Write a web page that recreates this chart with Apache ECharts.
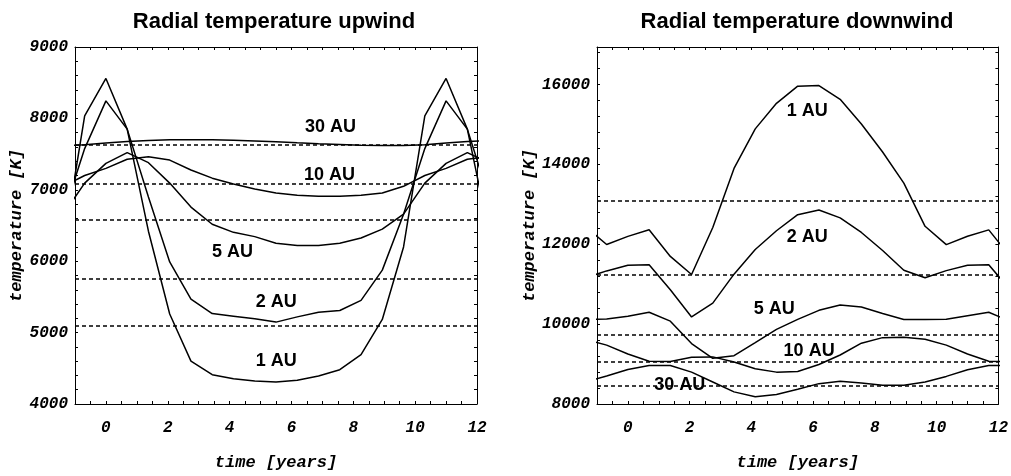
<!DOCTYPE html>
<html><head><meta charset="utf-8">
<script src="https://cdn.jsdelivr.net/npm/echarts@6/dist/echarts.min.js"></script>
<style>html,body{margin:0;padding:0;background:#fff}#c{width:1011px;height:476px}</style>
</head><body><div id="c"></div>
<script>
// sample times (years)
const times = [-1.375,-0.6875,0,0.6875,1.375,2.0625,2.75,3.4375,4.125,4.8125,5.5,6.1875,6.875,7.5625,8.25,8.9375,9.625,10.3125,11,11.6875,12.375];

// upwind temperatures [K]
const up1AU  = [6200,8037,8560,7850,6420,5260,4600,4410,4355,4322,4309,4332,4392,4480,4691,5184,6200,8037,8560,7850,6420];
const up2AU  = [6657,7577,8245,7850,6900,5990,5469,5267,5230,5193,5147,5220,5285,5310,5451,5875,6657,7577,8245,7850,6900];
const up5AU  = [6660,7094,7370,7520,7380,7094,6758,6518,6404,6344,6252,6220,6220,6252,6325,6449,6660,7094,7370,7520,7380];
const up10AU = [7049,7200,7300,7428,7463,7416,7278,7163,7080,7011,6956,6924,6910,6910,6925,6956,7049,7200,7300,7428,7463];
const up30AU = [7620,7630,7655,7675,7690,7700,7702,7700,7695,7685,7672,7658,7645,7635,7625,7620,7620,7630,7655,7675,7690];
const upRef  = [7632,7084,6587,5758,5101];

// downwind temperatures [K]
const dn1AU  = [12450,11993,12197,12363,11696,11242,12420,13900,14890,15530,15960,15975,15630,15010,14310,13530,12450,11990,12200,12360,11700];
const dn2AU  = [11160,11333,11473,11489,10860,10180,10526,11252,11869,12338,12740,12860,12660,12296,11845,11350,11160,11340,11474,11489,10860];
const dn5AU  = [10116,10131,10197,10296,10074,9514,9143,9210,9538,9869,10120,10346,10477,10427,10264,10116,10116,10120,10210,10296,10074];
const dn10AU = [9622,9474,9252,9069,9062,9168,9180,9050,8881,8798,8815,8988,9227,9523,9662,9671,9622,9474,9252,9069,9062];
const dn30AU = [8551,8699,8864,8963,8963,8798,8551,8304,8180,8239,8370,8510,8568,8527,8469,8469,8551,8691,8857,8963,8963];
const dnRef  = [13094,11242,9736,9069,8469];

// curve labels [text, time, temperature]
const upLabels = [['30 AU',7.26,7881],['10 AU',7.23,7205],['5 AU',4.09,6127],['2 AU',5.51,5423],['1 AU',5.51,4608]];
const dnLabels = [['1 AU',5.81,15333],['2 AU',5.81,12173],['5 AU',4.74,10370],['10 AU',5.87,9333],['30 AU',1.68,8469]];

// ticks
const xTicks = [-1,-0.5,0,0.5,1,1.5,2,2.5,3,3.5,4,4.5,5,5.5,6,6.5,7,7.5,8,8.5,9,9.5,10,10.5,11,11.5,12];
const xLabels = [0,2,4,6,8,10,12];
const upYTicks = [4000,4200,4400,4600,4800,5000,5200,5400,5600,5800,6000,6200,6400,6600,6800,7000,7200,7400,7600,7800,8000,8200,8400,8600,8800,9000];
const upYLabels = [4000,5000,6000,7000,8000,9000];
const dnYTicks = [8000,8400,8800,9200,9600,10000,10400,10800,11200,11600,12000,12400,12800,13200,13600,14000,14400,14800,15200,15600,16000,16400,16800];
const dnYLabels = [8000,10000,12000,14000,16000];

const chart = echarts.init(document.getElementById('c'), null, {renderer:'canvas'});
const monoFont = '"Liberation Mono", "DejaVu Sans Mono", monospace';
const sansFont = '"Liberation Sans", Arial, sans-serif';
const black = '#000';

function xAxisDef(grid, pos, withLabels) {
  return {
    type:'value', gridIndex:grid, position:pos, min:-1, max:12,
    axisLine:{show:true, onZero:false, lineStyle:{color:black, width:1}},
    axisTick:{show:true, inside:true, length:3, customValues:xTicks, lineStyle:{color:black}},
    axisLabel:{show:withLabels, customValues:xLabels, margin:16, formatter:v=>String(v),
      fontFamily:monoFont, fontStyle:'italic', fontWeight:'bold', fontSize:16, color:black},
    splitLine:{show:false},
    name: withLabels ? 'time [years]' : '', nameLocation:'middle', nameGap:50,
    nameTextStyle:{fontFamily:monoFont, fontStyle:'italic', fontWeight:'bold', fontSize:17, color:black}
  };
}
function yAxisDef(grid, pos, withLabels, min, max, ticks, labels) {
  return {
    type:'value', gridIndex:grid, position:pos, min:min, max:max,
    axisLine:{show:true, onZero:false, lineStyle:{color:black, width:1}},
    axisTick:{show:true, inside:true, length:3, customValues:ticks, lineStyle:{color:black}},
    axisLabel:{show:withLabels, customValues:labels, margin:7, formatter:v=>String(v),
      fontFamily:monoFont, fontStyle:'italic', fontWeight:'bold', fontSize:16, color:black},
    splitLine:{show:false},
    name: withLabels ? 'temperature [K]' : '', nameLocation:'middle', nameGap:40, nameRotate:90,
    nameTextStyle:{fontFamily:monoFont, fontStyle:'italic', fontWeight:'bold', fontSize:17, color:black}
  };
}
function lineSeries(arr, xi, yi) {
  return {type:'line', xAxisIndex:xi, yAxisIndex:yi, data:times.map((t,i)=>[t,arr[i]]),
    symbol:'none', showSymbol:false, clip:true, silent:true,
    lineStyle:{color:black, width:1.5}};
}
function refSeries(refs, xi, yi) {
  return {type:'line', xAxisIndex:xi, yAxisIndex:yi, data:[], silent:true,
    markLine:{silent:true, symbol:['none','none'], label:{show:false}, animation:false,
      lineStyle:{color:black, width:1.6, type:[4,3]},
      data: refs.map(v=>({yAxis:v}))}};
}
function labelSeries(lbls, xi, yi) {
  return {type:'scatter', xAxisIndex:xi, yAxisIndex:yi, symbolSize:0.1, itemStyle:{color:black}, silent:true,
    data: lbls.map(l=>[l[1], l[2], l[0]]),
    label:{show:true, position:'inside', formatter:p=>p.data[2], fontFamily:sansFont, fontWeight:'bold', fontSize:18,
      color:black, textBorderWidth:0, opacity:1}};
}

const option = {
  animation:false,
  backgroundColor:'#fff',
  grid:[
    {left:75, top:47, width:402, height:362},
    {left:597, top:47, width:402, height:362}
  ],
  graphic:[
    {type:'text', x:274, y:22, style:{text:'Radial temperature upwind', font:'bold 22px "Liberation Sans", Arial, sans-serif', textAlign:'center', textVerticalAlign:'middle', fill:black}},
    {type:'text', x:797, y:22, style:{text:'Radial temperature downwind', font:'bold 22px "Liberation Sans", Arial, sans-serif', textAlign:'center', textVerticalAlign:'middle', fill:black}}
  ],
  xAxis:[
    xAxisDef(0,'bottom',true), xAxisDef(0,'top',false),
    xAxisDef(1,'bottom',true), xAxisDef(1,'top',false)
  ],
  yAxis:[
    yAxisDef(0,'left',true,4000,9000,upYTicks,upYLabels), yAxisDef(0,'right',false,4000,9000,upYTicks,upYLabels),
    yAxisDef(1,'left',true,8000,16940,dnYTicks,dnYLabels), yAxisDef(1,'right',false,8000,16940,dnYTicks,dnYLabels)
  ],
  series:[
    refSeries(upRef,0,0),
    lineSeries(up1AU,0,0), lineSeries(up2AU,0,0), lineSeries(up5AU,0,0), lineSeries(up10AU,0,0), lineSeries(up30AU,0,0),
    labelSeries(upLabels,0,0),
    refSeries(dnRef,2,2),
    lineSeries(dn1AU,2,2), lineSeries(dn2AU,2,2), lineSeries(dn5AU,2,2), lineSeries(dn10AU,2,2), lineSeries(dn30AU,2,2),
    labelSeries(dnLabels,2,2)
  ]
};
chart.setOption(option);
</script>
</body></html>
